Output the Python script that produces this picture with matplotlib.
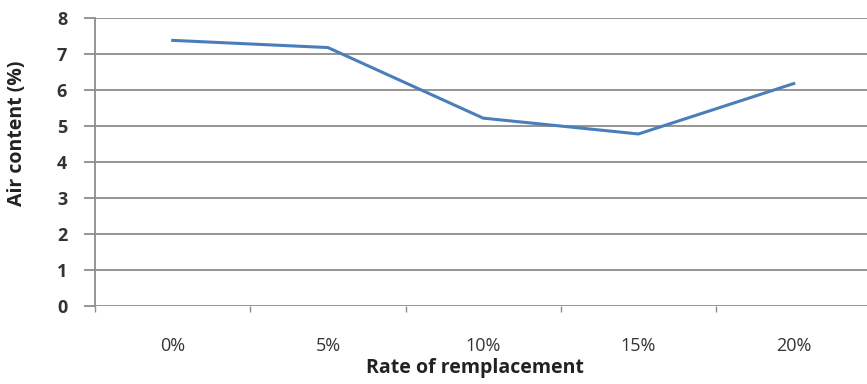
import matplotlib.pyplot as plt
import numpy as np

# Air content for each replacement rate
rates = ["0%", "5%", "10%", "15%", "20%"]
air_content = [7.38, 7.18, 5.22, 4.78, 6.18]
y_ticks = [0, 1, 2, 3, 4, 5, 6, 7, 8]

plt.rcParams['font.family'] = ['Open Sans', 'DejaVu Sans']

fig = plt.figure(figsize=(8.67, 3.84), dpi=100)
ax = fig.add_axes([0.1096, 0.203, 0.8954, 0.750])

x = np.arange(len(rates))
ax.plot(x, air_content, color="#4A7EBB", linewidth=2.2, solid_joinstyle="round")

ax.set_xlim(-0.5, len(rates) - 0.5)
ax.set_ylim(0, 8)
ax.set_yticks(y_ticks)
ax.set_yticklabels([str(v) for v in y_ticks], fontsize=13, fontweight="bold", color="#333333")
ax.set_xticks(x)
ax.set_xticklabels(rates, fontsize=13, color="#333333")
ax.set_xticks(np.arange(-0.5, len(rates) + 0.5), minor=True)

ax.grid(axis="y", color="#8c8c8c", linewidth=1.3)
ax.set_axisbelow(True)
for side in ["top", "right", "bottom"]:
    ax.spines[side].set_visible(False)
ax.spines["left"].set_color("#8c8c8c")
ax.spines["left"].set_linewidth(1.3)

ax.tick_params(axis="y", length=8, width=1.3, color="#8c8c8c", pad=12)
ax.tick_params(axis="x", which="major", length=0, pad=22)
ax.tick_params(axis="x", which="minor", length=4, width=1.0, color="#8c8c8c")

ax.set_ylabel("Air content (%)", fontsize=14, fontweight="bold", color="#222222")
ax.yaxis.set_label_coords(-0.088, 0.60)
ax.set_xlabel("Rate of remplacement", fontsize=14, fontweight="bold", color="#222222")
ax.xaxis.set_label_coords(0.49, -0.18)

fig.savefig("out.png", dpi=100)
